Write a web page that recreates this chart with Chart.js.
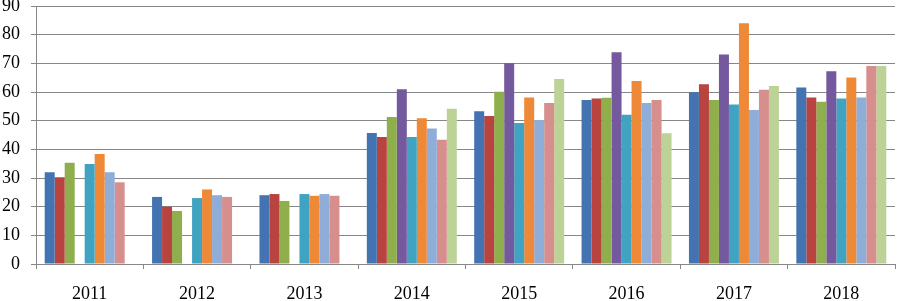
<!DOCTYPE html>
<html>
<head>
<meta charset="utf-8">
<script src="https://cdn.jsdelivr.net/npm/chart.js@4"></script>
<style>
html,body{margin:0;padding:0;background:#fff;}
#wrap{width:897px;height:301px;}
</style>
</head>
<body>
<div id="wrap"><canvas id="c" width="897" height="301"></canvas></div>
<script>
const categories = ['2011','2012','2013','2014','2015','2016','2017','2018'];
const s1 = [32.0, 23.4, 24.0, 45.7, 53.3, 57.2, 59.9, 61.6];
const s2 = [30.3, 20.0, 24.4, 44.3, 51.6, 57.7, 62.7, 58.1];
const s3 = [35.3, 18.5, 22.0, 51.3, 60.1, 58.0, 57.2, 56.6];
const s4 = [null, null, null, 61.0, 70.0, 73.9, 73.1, 67.2];
const s5 = [34.9, 23.0, 24.4, 44.3, 49.2, 52.1, 55.6, 57.7];
const s6 = [38.4, 26.0, 23.8, 50.8, 58.1, 63.8, 84.0, 65.1];
const s7 = [32.0, 24.0, 24.4, 47.3, 50.2, 56.2, 53.7, 58.1];
const s8 = [28.5, 23.4, 23.8, 43.3, 56.2, 57.2, 60.8, 69.1];
const s9 = [null, null, null, 54.2, 64.5, 45.6, 62.1, 69.1];
const yTicks = [0,10,20,30,40,50,60,70,80,90];

const seriesList = [s1,s2,s3,s4,s5,s6,s7,s8,s9];
const colors = ['#4373B0','#B8433F','#8FAF4C','#75599E','#40A3C2','#EE8A37','#8FADD9','#D68F8D','#BDD297'];
const gridColor = '#878787';
const font = {family:'"Liberation Serif","Times New Roman",serif', size:18};

new Chart(document.getElementById('c'), {
  type:'bar',
  data:{
    labels:categories,
    datasets:seriesList.map((d,i)=>({
      label:'S'+(i+1), data:d, backgroundColor:colors[i], borderWidth:0,
      categoryPercentage:0.838, barPercentage:1.0
    }))
  },
  options:{
    responsive:false, animation:false,
    layout:{padding:{top:6,right:2,left:0,bottom:0}},
    plugins:{legend:{display:false}, tooltip:{enabled:false}},
    scales:{
      x:{
        grid:{display:true, drawOnChartArea:false, drawTicks:true, tickLength:5, color:gridColor, offset:true},
        border:{display:true, color:gridColor, width:1},
        ticks:{font:font, color:'#000', padding:14, maxRotation:0},
        afterFit:(s)=>{ s.height = 37; }
      },
      y:{
        min:0, max:90,
        afterBuildTicks:(s)=>{ s.ticks = yTicks.map(v=>({value:v})); },
        grid:{color:gridColor, tickLength:5, lineWidth:1},
        border:{display:true, color:gridColor, width:1},
        ticks:{font:font, color:'#000', padding:11},
        afterFit:(s)=>{ s.width = 36; s.paddingTop = 0; s.paddingBottom = 0; }
      }
    }
  }
});
</script>
</body>
</html>
